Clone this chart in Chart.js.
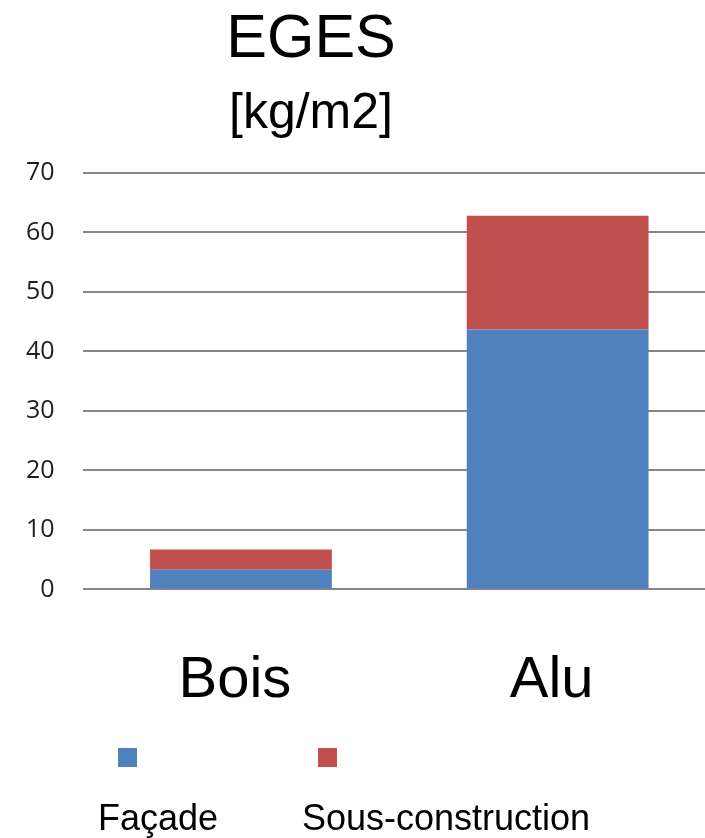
<!DOCTYPE html>
<html>
<head>
<meta charset="utf-8">
<script src="https://cdn.jsdelivr.net/npm/chart.js@4/dist/chart.umd.min.js"></script>
<style>
  html, body { margin: 0; padding: 0; background: #fff; overflow: hidden; }
  #wrap { width: 705px; height: 838px; overflow: hidden; }
  #wrap canvas { display: block; }
</style>
</head>
<body>
<div id="wrap"><canvas id="egesChart" width="716" height="838"></canvas></div>
<script>
// values
const categories = ['Bois', 'Alu'];
const facade = [3.3, 43.7];
const sousConstruction = [3.4, 19.1];
const yTicks = [0, 10, 20, 30, 40, 50, 60, 70];

const titleText = 'EGES';
const subtitleText = '[kg/m2]';

// title + unit on top
const titlePlugin = {
  id: 'titleText',
  afterDraw(chart) {
    const ctx = chart.ctx;
    ctx.save();
    ctx.fillStyle = '#000';
    ctx.textAlign = 'center';
    ctx.textBaseline = 'alphabetic';
    ctx.font = '61px "Liberation Sans", Arial, sans-serif';
    ctx.fillText(titleText, 311, 57);
    ctx.font = '50px "Liberation Sans", Arial, sans-serif';
    ctx.fillText(subtitleText, 311, 128);
    ctx.restore();
  }
};

// legend: square above, label underneath
const legendPlugin = {
  id: 'squareLegend',
  afterDraw(chart) {
    const ctx = chart.ctx;
    const boxX = [118, 318];
    const textX = [98, 302];
    ctx.save();
    chart.data.datasets.forEach((ds, i) => {
      ctx.fillStyle = ds.backgroundColor;
      ctx.fillRect(boxX[i], 748, 19, 19);
      ctx.fillStyle = '#000';
      ctx.font = '36px "Liberation Sans", Arial, sans-serif';
      ctx.textAlign = 'left';
      ctx.textBaseline = 'alphabetic';
      ctx.fillText(ds.label, textX[i], 830);
    });
    ctx.restore();
  }
};

new Chart(document.getElementById('egesChart'), {
  type: 'bar',
  data: {
    labels: categories,
    datasets: [
      { label: 'Façade', data: facade, backgroundColor: '#4F81BD' },
      { label: 'Sous-construction', data: sousConstruction, backgroundColor: '#C0504D' }
    ]
  },
  options: {
    responsive: false,
    animation: false,
    layout: { padding: { top: 173, left: -2, right: 0, bottom: 65 } },
    plugins: {
      legend: { display: false },
      title: { display: false },
      tooltip: { enabled: false }
    },
    datasets: {
      bar: { barPercentage: 0.574, categoryPercentage: 1 }
    },
    scales: {
      x: {
        stacked: true,
        grid: { display: false, drawTicks: false },
        border: { display: false },
        ticks: {
          color: '#000',
          padding: 57,
          labelOffset: -6,
          font: { family: '"Liberation Sans", Arial, sans-serif', size: 58 }
        }
      },
      y: {
        stacked: true,
        min: 0,
        max: 70,
        afterBuildTicks(scale) {
          scale.ticks = yTicks.map(v => ({ value: v }));
        },
        grid: { color: '#868686', lineWidth: 2, drawTicks: false },
        border: { display: false },
        ticks: {
          color: '#1e1e1e',
          padding: 28,
          font: { family: '"Open Sans", sans-serif', size: 25 }
        }
      }
    }
  },
  plugins: [titlePlugin, legendPlugin]
});
</script>
</body>
</html>
